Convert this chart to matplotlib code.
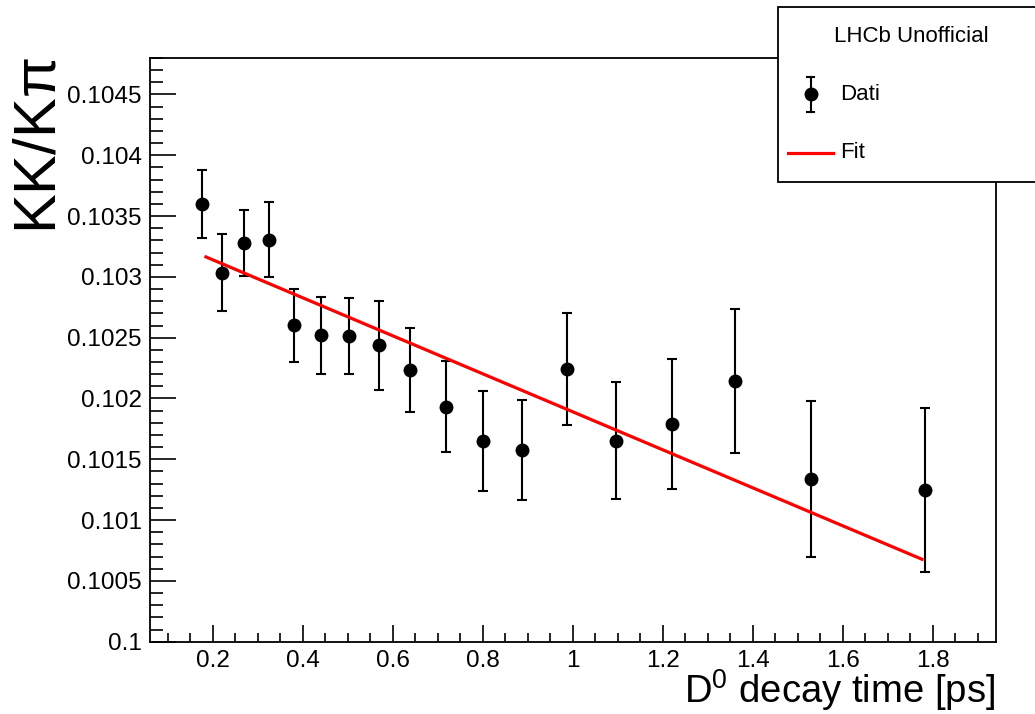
import matplotlib
matplotlib.use("Agg")
import matplotlib.pyplot as plt
from matplotlib.patches import Rectangle
from matplotlib.lines import Line2D
from matplotlib.ticker import MultipleLocator

plt.rcParams['font.family'] = ['Liberation Sans', 'DejaVu Sans']
plt.rcParams['mathtext.fontset'] = 'custom'
plt.rcParams['mathtext.rm'] = 'Liberation Sans'
plt.rcParams['mathtext.it'] = 'Liberation Sans:italic'
plt.rcParams['mathtext.default'] = 'regular'

# Data
decay_time = [0.176, 0.220, 0.270, 0.325, 0.380, 0.440, 0.504, 0.569, 0.638,
              0.718, 0.801, 0.887, 0.987, 1.096, 1.221, 1.361, 1.529, 1.783]
ratio = [0.10360, 0.103035, 0.103279, 0.103306, 0.102604, 0.102520, 0.102514,
         0.102438, 0.102234, 0.101933, 0.101648, 0.101579, 0.102243, 0.101653,
         0.101790, 0.102146, 0.101338, 0.101248]
ratio_err = [0.000278, 0.000319, 0.000271, 0.000311, 0.000300, 0.000317,
             0.000315, 0.000365, 0.000344, 0.000375, 0.000411, 0.000410,
             0.000461, 0.000480, 0.000536, 0.000592, 0.000644, 0.000676]

# fit line endpoints
fit_x = [0.185, 1.776]
fit_y = [0.103164, 0.100678]

W, H = 1035, 714
fig = plt.figure(figsize=(W / 100, H / 100), dpi=100)
ax = fig.add_axes([150 / W, 1 - 641.7 / H, (996 - 150) / W, (641.7 - 58) / H])

ax.errorbar(decay_time, ratio, yerr=ratio_err, fmt='o', color='black',
            markersize=9, elinewidth=1.5, capsize=3.5, capthick=1.5, zorder=3)
ax.plot(fit_x, fit_y, color='red', lw=2.3, zorder=4)

ax.set_xlim(0.0607, 1.9407)
ax.set_ylim(0.1, 0.1048)

ax.xaxis.set_major_locator(MultipleLocator(0.2))
ax.xaxis.set_minor_locator(MultipleLocator(0.05))
ax.yaxis.set_major_locator(MultipleLocator(0.0005))
ax.yaxis.set_minor_locator(MultipleLocator(0.0001))
ax.set_xticks([0.2, 0.4, 0.6, 0.8, 1.0, 1.2, 1.4, 1.6, 1.8])
ax.set_xticklabels(['0.2', '0.4', '0.6', '0.8', '1', '1.2', '1.4', '1.6', '1.8'])
yt = [0.1, 0.1005, 0.101, 0.1015, 0.102, 0.1025, 0.103, 0.1035, 0.104, 0.1045]
ax.set_yticks(yt)
ax.set_yticklabels(['0.1', '0.1005', '0.101', '0.1015', '0.102', '0.1025',
                    '0.103', '0.1035', '0.104', '0.1045'])

ax.tick_params(axis='both', which='both', direction='in', width=1.2,
               labelsize=17.5, top=False, right=False)
ax.tick_params(axis='y', which='major', length=19, pad=6)
ax.tick_params(axis='y', which='minor', length=9.5)
ax.tick_params(axis='x', which='major', length=12, pad=6)
ax.tick_params(axis='x', which='minor', length=6.5)
for s in ax.spines.values():
    s.set_linewidth(1.3)

fig.text(995 / W, 1 - 703 / H, 'D$^{0}$ decay time [ps]', ha='right',
         va='baseline', fontsize=27.5)
fig.text(40 / W, 1 - 57 / H, r'KK/K$\pi$', rotation=90, ha='center',
         va='top', fontsize=43)

# legend box (runs off the right edge, as in the original)
fig.add_artist(Rectangle((778 / W, 1 - 181.7 / H), 300 / W, 175 / H,
                         transform=fig.transFigure, facecolor='white',
                         edgecolor='black', lw=1.3, zorder=5))
fig.text(911 / W, 1 - 37 / H, 'LHCb Unofficial', ha='center', va='center',
         fontsize=16, zorder=6)
fig.add_artist(Line2D([810.7 / W], [1 - 94.3 / H], marker='o', color='black',
                      markersize=9, transform=fig.transFigure, zorder=6))
fig.add_artist(Line2D([810.7 / W] * 2, [1 - 77.3 / H, 1 - 111.7 / H],
                      color='black', lw=1.5, transform=fig.transFigure, zorder=6))
for yy in (77.3, 111.7):
    fig.add_artist(Line2D([807 / W, 814.4 / W], [1 - yy / H] * 2, color='black',
                          lw=1.5, transform=fig.transFigure, zorder=6))
fig.text(840 / W, 1 - 94 / H, 'Dati', ha='left', va='center', fontsize=16,
         zorder=6)
fig.add_artist(Line2D([788 / W, 833 / W], [1 - 152.7 / H] * 2, color='red',
                      lw=2.3, transform=fig.transFigure, zorder=6))
fig.text(840 / W, 1 - 152 / H, 'Fit', ha='left', va='center', fontsize=16,
         zorder=6)

fig.savefig('out.png', dpi=100)
